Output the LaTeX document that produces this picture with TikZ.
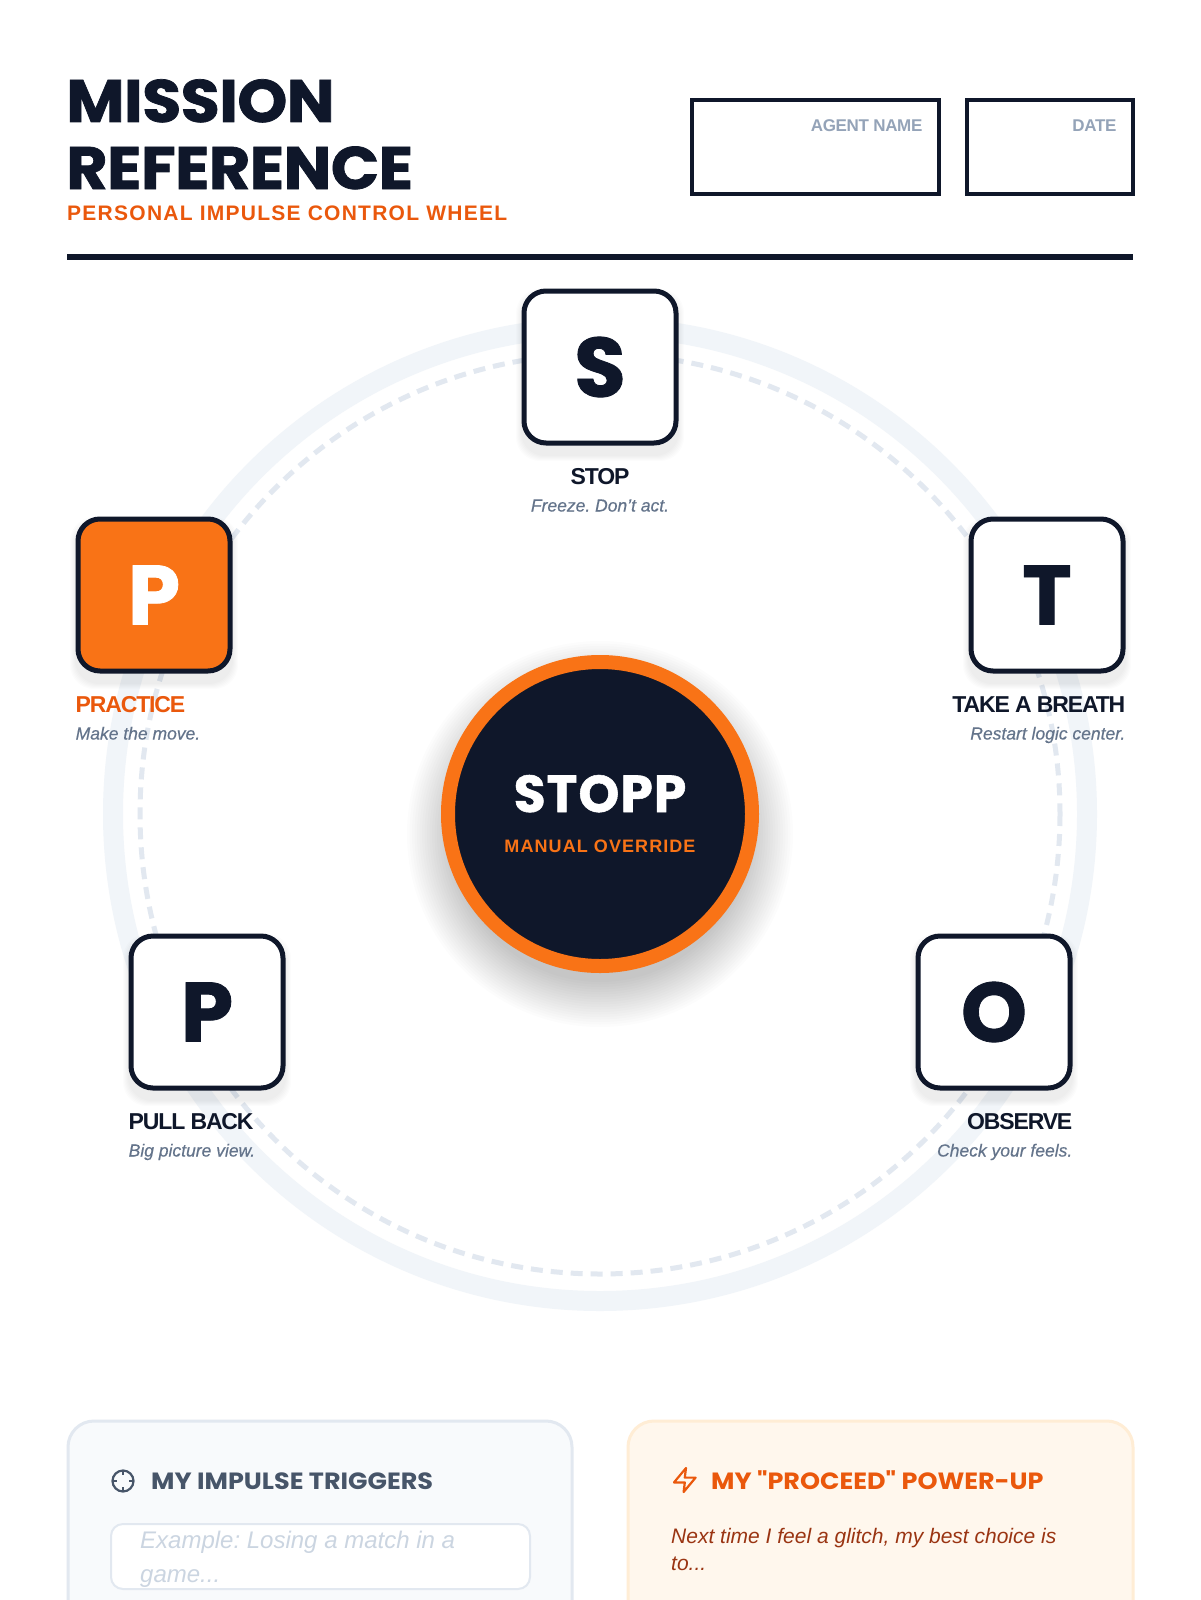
\documentclass[tikz,border=0pt]{standalone}
\usepackage{fontspec}
\setmainfont{Liberation Sans}
\newfontfamily\headfont{Poppins}
\usepackage{tikz}
\usetikzlibrary{positioning}

\definecolor{navy}{HTML}{0F172A}
\definecolor{brand}{HTML}{F97316}
\definecolor{brandtext}{HTML}{EA580C}
\definecolor{slatetext}{HTML}{64748B}
\definecolor{ringband}{HTML}{F1F5F9}
\definecolor{ringdash}{HTML}{E2E8F0}
\definecolor{labelgray}{HTML}{94A3B8}
\definecolor{cardleft}{HTML}{F8FAFC}
\definecolor{cardright}{HTML}{FFF7ED}
\definecolor{cardrightedge}{HTML}{FFEDD5}
\definecolor{titlegray}{HTML}{475569}
\definecolor{holdergray}{HTML}{CBD5E1}
\definecolor{rusttext}{HTML}{9A3412}

\begin{document}
\frenchspacing
\begin{tikzpicture}[x=1pt, y=-1pt,
  letterbox/.style={draw=navy, line width=5pt, rounded corners=22pt, fill=white, minimum size=152pt, inner sep=0pt, text=navy, font=\headfont\bfseries\fontsize{84}{84}\selectfont\addfontfeatures{FakeBold=1}},
  practicebox/.style={letterbox, fill=brand, text=white},
  steplabel/.style={inner sep=0pt, text=navy, font=\bfseries\fontsize{23}{23}\selectfont\addfontfeatures{LetterSpace=-5}},
  stepdesc/.style={inner sep=0pt, text=slatetext, font=\itshape\fontsize{17.5}{17.5}\selectfont\addfontfeatures{FakeBold=0.4}},
  fieldbox/.style={draw=navy, line width=3.2pt, inner sep=0pt},
  fieldlabel/.style={inner sep=0pt, anchor=base east, text=labelgray, font=\bfseries\fontsize{17}{17}\selectfont\addfontfeatures{LetterSpace=-2}},
  headline/.style={anchor=base west, inner sep=0pt, text=navy, font=\headfont\bfseries\fontsize{60}{60}\selectfont\addfontfeatures{LetterSpace=-1, FakeStretch=1.06, FakeBold=1.2}},
  cardtitle/.style={inner sep=0pt, anchor=base west, font=\headfont\bfseries\fontsize{23.5}{23.5}\selectfont\addfontfeatures{FakeStretch=1.085}},
  cardtext/.style={inner sep=0pt, anchor=base west, font=\itshape\fontsize{24}{24}\selectfont}]

\useasboundingbox (0,0) rectangle (1200,1600);
\fill[white] (0,0) rectangle (1200,1600);

\node[headline] (titleA) at (66,122) {MISSION};
\node[headline] (titleB) at (66,189) {REFERENCE};
\node[anchor=base west, inner sep=0pt, text=brandtext, font=\bfseries\fontsize{21}{21}\selectfont\addfontfeatures{LetterSpace=6}] (subtitle) at (67,220) {PERSONAL IMPULSE CONTROL WHEEL};

\node[fieldbox, minimum width=247pt, minimum height=94pt] (agentbox) at (815.5,147) {};
\node[fieldbox, minimum width=166pt, minimum height=94pt] (datebox) at (1050,147) {};
\node[fieldlabel] (agentlbl) at ([xshift=-18pt, yshift=-33pt]agentbox.north east) {AGENT NAME};
\node[fieldlabel] (datelbl) at ([xshift=-18pt, yshift=-33pt]datebox.north east) {DATE};

\draw[navy, line width=6pt] (67,257) -- (1133,257);

\draw[ringband, line width=20pt] (600,814) circle (487);
\draw[ringdash, line width=5pt, dash pattern=on 12pt off 8pt] (600,814) circle (460);

\foreach \k in {0,...,18}
  \fill[black, opacity=0.011] (600,834) circle (148+2.5*\k);
\node[circle, fill=navy, draw=brand, line width=14pt, minimum size=304pt, inner sep=0pt] (core) at (600,814) {};
\node[anchor=base, inner sep=0pt, text=white, font=\headfont\bfseries\fontsize{52}{52}\selectfont\addfontfeatures{LetterSpace=2, FakeBold=1}] (coreword) at (600,812) {STOPP};
\node[anchor=base, inner sep=0pt, text=brand, font=\bfseries\fontsize{18}{18}\selectfont\addfontfeatures{LetterSpace=6}] (coresub) at (600,852) {MANUAL OVERRIDE};

\foreach \cx/\cy in {600/367, 1047/595, 994/1012, 207/1012, 154/595}
  \foreach \k in {1,...,6}
    \fill[black, opacity=0.01, rounded corners=24pt] (\cx-78-\k,\cy-72-\k) rectangle (\cx+78+\k,\cy+88+\k);

\node[letterbox] (boxS) at (600,367) {S};
\node[letterbox] (boxT) at (1047,595) {T};
\node[letterbox] (boxO) at (994,1012) {O};
\node[letterbox] (boxPB) at (207,1012) {P};
\node[practicebox] (boxPR) at (154,595) {P};

\node[steplabel, below=39pt of boxS.south, anchor=base] (labS) {STOP};
\node[stepdesc, below=27pt of labS.base, anchor=base] (descS) {Freeze. Don't act.};
\node[steplabel, below=39pt of boxT.south east, anchor=base east] (labT) {TAKE A BREATH};
\node[stepdesc, below=27pt of labT.base east, anchor=base east] (descT) {Restart logic center.};
\node[steplabel, below=39pt of boxO.south east, anchor=base east] (labO) {OBSERVE};
\node[stepdesc, below=27pt of labO.base east, anchor=base east] (descO) {Check your feels.};
\node[steplabel, below=39pt of boxPB.south west, anchor=base west] (labPB) {PULL BACK};
\node[stepdesc, below=27pt of labPB.base west, anchor=base west] (descPB) {Big picture view.};
\node[steplabel, text=brandtext, below=39pt of boxPR.south west, anchor=base west] (labPR) {PRACTICE};
\node[stepdesc, below=27pt of labPR.base west, anchor=base west] (descPR) {Make the move.};

\draw[ringdash, fill=cardleft, line width=3pt, rounded corners=26pt] (68,1421) rectangle (572,1660);
\draw[cardrightedge, fill=cardright, line width=3pt, rounded corners=26pt] (628,1421) rectangle (1133,1660);

\draw[titlegray, line width=2.2pt] (123,1481) circle (10.5);
\begin{scope}[shift={(123,1481)}]
  \foreach \a in {0,90,180,270}
    \draw[titlegray, line width=2.2pt] (\a:10.5) -- (\a:6);
\end{scope}
\node[cardtitle, text=titlegray] (trigtitle) at (151,1489) {MY IMPULSE TRIGGERS};
\draw[ringdash, fill=white, line width=2pt, rounded corners=12pt] (111,1524) rectangle (530,1589);
\node[cardtext, text=holdergray] (trigline1) at (140,1548) {Example: Losing a match in a};
\node[cardtext, text=holdergray] (trigline2) at (140,1582) {game...};

\draw[brandtext, line width=2.2pt, line join=round, shift={(670.4,1465.6)}, scale=1.2] (13,2) -- (3,14) -- (12,14) -- (11,22) -- (21,10) -- (12,10) -- cycle;
\node[cardtitle, text=brandtext] (powertitle) at (711,1489) {MY "PROCEED" POWER-UP};
\node[cardtext, text=rusttext, font=\itshape\fontsize{21}{21}\selectfont] (powerline1) at (671,1543) {Next time I feel a glitch, my best choice is};
\node[cardtext, text=rusttext, font=\itshape\fontsize{21}{21}\selectfont] (powerline2) at (671,1570) {to...};
\end{tikzpicture}
\end{document}
